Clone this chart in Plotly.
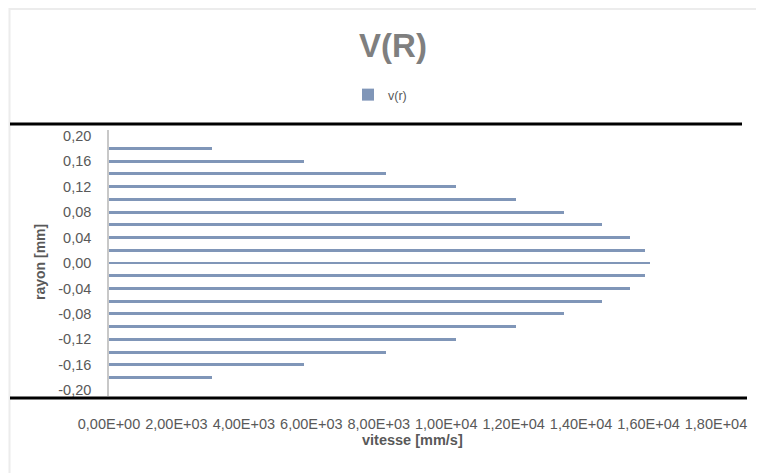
import plotly.graph_objects as go

# ---- data ----
rayon = [0.18, 0.16, 0.14, 0.12, 0.10, 0.08, 0.06, 0.04, 0.02, 0.00,
         -0.02, -0.04, -0.06, -0.08, -0.10, -0.12, -0.14, -0.16, -0.18]
vitesse = [3050, 5780, 8200, 10280, 12060, 13490, 14610, 15440, 15890, 16050,
           15890, 15440, 14610, 13490, 12060, 10280, 8200, 5780, 3050]

y_tickvals = [0.20, 0.16, 0.12, 0.08, 0.04, 0.00, -0.04, -0.08, -0.12, -0.16, -0.20]
y_ticktext = ["0,20", "0,16", "0,12", "0,08", "0,04", "0,00",
              "-0,04", "-0,08", "-0,12", "-0,16", "-0,20"]
x_tickvals = [0, 2000, 4000, 6000, 8000, 10000, 12000, 14000, 16000, 18000]
x_ticktext = ["0,00E+00", "2,00E+03", "4,00E+03", "6,00E+03", "8,00E+03",
              "1,00E+04", "1,20E+04", "1,40E+04", "1,60E+04", "1,80E+04"]

# ---- layout geometry (pixels in the 764x473 window; page body has an 8px margin) ----
OFF = 8
WIN_W, WIN_H = 764, 473
W, H = WIN_W - OFF, WIN_H - OFF
PL, PR, PT, PB = 109, 716, 130, 396          # plot area edges in window pixels
L, R, T, B = PL - OFF, WIN_W - PR, PT - OFF, WIN_H - PB
PW, PH = PR - PL, PB - PT

def px(x):
    return (x - PL) / PW

def py(y):
    return (PB - y) / PH

def cx(x):
    return (x - OFF) / W

def cy(y):
    return 1 - (y - OFF) / H

FONT = "Liberation Sans, Arial, sans-serif"
TXT = "#595959"
BAR = "#8096b8"

fig = go.Figure()
fig.add_trace(go.Bar(
    x=vitesse, y=rayon, orientation="h", name="v(r)",
    marker=dict(color=BAR, line=dict(width=0)), width=0.0045,
))

fig.update_layout(
    width=W, height=H,
    margin=dict(l=L, r=R, t=T, b=B, autoexpand=False),
    paper_bgcolor="white", plot_bgcolor="white",
    font=dict(family=FONT, color=TXT, size=13),
    title=dict(text="<b>V(R)</b>", x=cx(393), xanchor="center", xref="container",
               y=cy(45), yanchor="middle", yref="container",
               font=dict(size=33, color="#7f7f7f", family=FONT)),
    showlegend=True,
    legend=dict(orientation="h", x=px(348), xanchor="left", y=py(95), yanchor="middle",
                itemwidth=30, font=dict(size=12.5, color=TXT), bgcolor="rgba(0,0,0,0)"),
    bargap=0,
)

fig.update_xaxes(range=[0, 18000], tickvals=x_tickvals, ticktext=x_ticktext,
                 showgrid=False, zeroline=False, showline=False,
                 ticks="outside", ticklen=15, tickcolor="rgba(0,0,0,0)",
                 tickfont=dict(size=14.5, color=TXT))
fig.update_yaxes(range=[-0.209, 0.209], tickvals=y_tickvals, ticktext=y_ticktext,
                 showgrid=False, zeroline=False, showline=True,
                 linecolor="#c8c8c8", linewidth=1.5,
                 ticks="outside", ticklen=13, tickcolor="rgba(0,0,0,0)",
                 tickfont=dict(size=14.5, color=TXT))

fig.add_annotation(text="<b>rayon [mm]</b>", x=px(40), y=py(262), xref="paper", yref="paper",
                   showarrow=False, textangle=-90, font=dict(size=14, color=TXT),
                   xanchor="center", yanchor="middle")
fig.add_annotation(text="<b>vitesse [mm/s]</b>", x=px(412), y=py(440), xref="paper", yref="paper",
                   showarrow=False, font=dict(size=14.5, color=TXT),
                   xanchor="center", yanchor="middle")

# frame borders and black separator lines
fig.add_shape(type="line", xref="paper", yref="paper", x0=px(9), x1=px(764), y0=py(9), y1=py(9),
              line=dict(color="#ececec", width=2))
fig.add_shape(type="line", xref="paper", yref="paper", x0=px(9.5), x1=px(9.5), y0=py(8), y1=py(473),
              line=dict(color="#ececec", width=2))
fig.add_shape(type="line", xref="paper", yref="paper", x0=px(10), x1=px(742), y0=py(124), y1=py(124),
              line=dict(color="black", width=3))
fig.add_shape(type="line", xref="paper", yref="paper", x0=px(10), x1=px(747), y0=py(398), y1=py(398),
              line=dict(color="black", width=3))

fig.write_html("out.html")
